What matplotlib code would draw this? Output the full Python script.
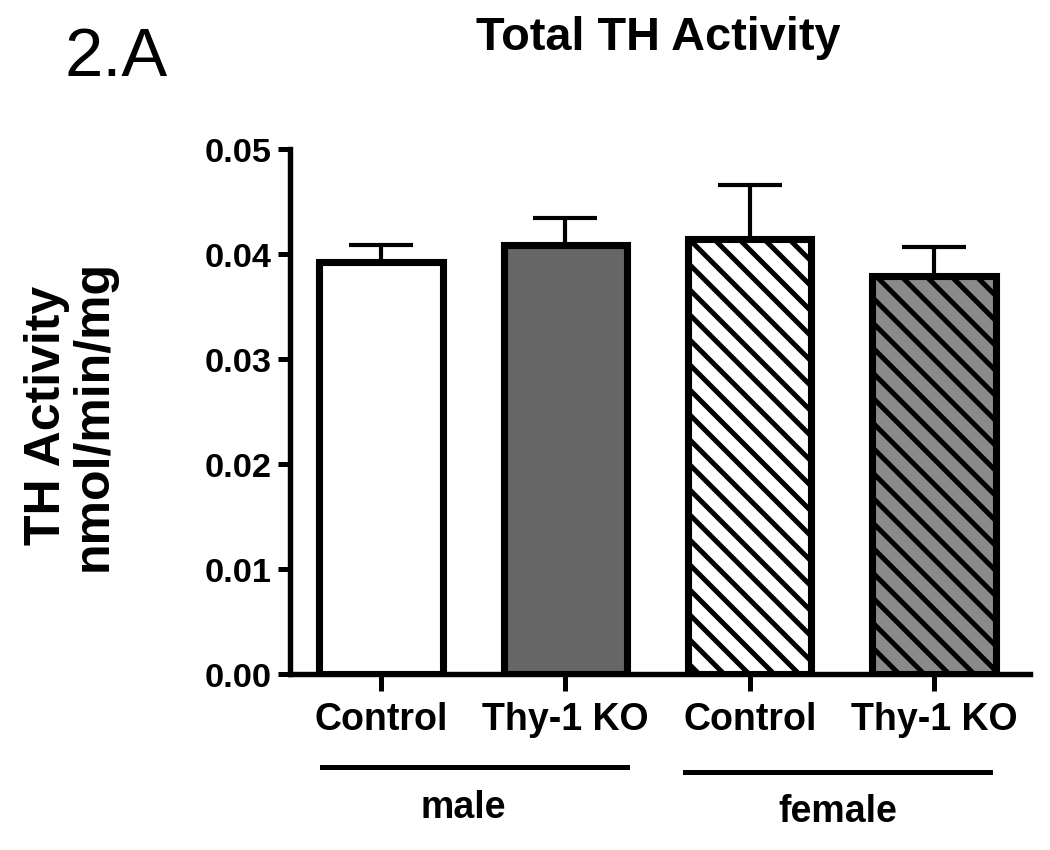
import matplotlib
matplotlib.use("Agg")
import matplotlib.pyplot as plt
from matplotlib.lines import Line2D

# values (nmol/min/mg)
categories = ["Control", "Thy-1 KO", "Control", "Thy-1 KO"]
means = [0.0392, 0.0409, 0.0414, 0.0379]
sems = [0.0017, 0.0025, 0.0052, 0.0028]
groups = ["male", "female"]
yticks = [0.00, 0.01, 0.02, 0.03, 0.04, 0.05]

fills = ["white", "#666666", "white", "#8a8a8a"]
hatches = ["", "", "\\\\", "\\\\"]

plt.rcParams["font.family"] = ["Liberation Sans", "DejaVu Sans"]
plt.rcParams["hatch.linewidth"] = 2.4
plt.rcParams["hatch.color"] = "black"

fig = plt.figure(figsize=(7, 851 / 150), dpi=150)
ax = fig.add_axes([0.2762, 0.2068, 0.7048, 0.6168])

xpos = list(range(len(categories)))
for x, m, s, c, h in zip(xpos, means, sems, fills, hatches):
    ax.bar(x, m, width=0.67, color=c, edgecolor="black", linewidth=3.4,
           hatch=h, zorder=2)
    ax.errorbar(x, m, yerr=[[0], [s]], fmt="none", ecolor="black",
                elinewidth=2.0, capsize=15.5, capthick=2.0, zorder=1)

ax.set_xlim(-0.494, 3.521)
ax.set_ylim(0, 0.05)
ax.set_yticks(yticks)
ax.set_yticklabels(["%.2f" % v for v in yticks], fontsize=16.5, fontweight="bold")
ax.set_xticks(xpos)
ax.set_xticklabels(categories, fontsize=18, fontweight="bold")

for side in ["top", "right"]:
    ax.spines[side].set_visible(False)
for side in ["left", "bottom"]:
    ax.spines[side].set_linewidth(2.6)
ax.tick_params(axis="y", length=6, width=2.4, pad=3)
ax.tick_params(axis="x", length=8, width=2.4, pad=5)

# group underlines and labels
fig.add_artist(Line2D([0.3067, 0.5971], [0.0975, 0.0975], color="black", lw=2.4))
fig.add_artist(Line2D([0.6524, 0.9429], [0.0917, 0.0917], color="black", lw=2.4))
fig.text(0.441, 0.050, groups[0], ha="center", va="center", fontsize=18, fontweight="bold")
fig.text(0.798, 0.046, groups[1], ha="center", va="center", fontsize=18, fontweight="bold")

fig.text(0.627, 0.955, "Total TH Activity", ha="center", va="center",
         fontsize=22.5, fontweight="bold")
fig.text(0.061, 0.932, "2.A", ha="left", va="center", fontsize=33)
fig.text(0.067, 0.512, "TH Activity\nnmol/min/mg", rotation=90, ha="center",
         va="center", multialignment="center", fontsize=24, fontweight="bold",
         linespacing=1.0)

fig.savefig("out.png", dpi=150)
